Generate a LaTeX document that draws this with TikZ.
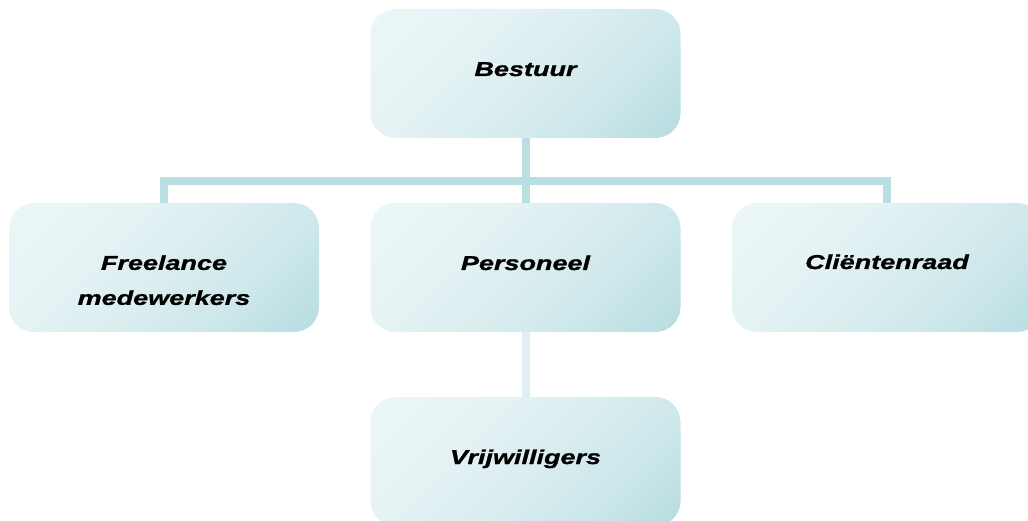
\documentclass[tikz,border=0pt]{standalone}
\usepackage{fontspec}
\newfontfamily\boxfont[FakeStretch=1.35,FakeBold=1.2]{Liberation Sans}
\definecolor{boxlight}{HTML}{EBF6F7}
\definecolor{boxpale}{HTML}{E6F3F5}
\definecolor{boxcenter}{HTML}{DCEEF0}
\definecolor{boxmid}{HTML}{CCE7EA}
\definecolor{boxdark}{HTML}{B9DEE2}
\definecolor{connclr}{HTML}{B9DFE3}
\definecolor{connpale}{HTML}{E0F0F2}
\pgfdeclareverticalshading{boxshade}{100bp}{%
  color(0bp)=(boxdark); color(17bp)=(boxdark); color(32bp)=(boxmid);
  color(50bp)=(boxcenter); color(66bp)=(boxpale); color(85bp)=(boxlight); color(100bp)=(boxlight)}
\tikzset{
  orgbox/.style={rectangle, rounded corners=25pt, minimum width=310pt, minimum height=129pt,
    inner sep=0pt, shade, shading=boxshade, shading angle=45},
  lbl/.style={font=\boxfont\bfseries\itshape\fontsize{20}{35}\selectfont, inner sep=0pt, text=black},
  conn/.style={draw=connclr, line width=8pt, line join=miter},
}
\begin{document}
\begin{tikzpicture}[x=1pt,y=1pt]
\useasboundingbox (0,0) rectangle (1028,520);
\clip (0,0) rectangle (1028,520);
\node[orgbox] (bestuur) at (525.5,446.5) {};
\node[orgbox] (freelance) at (164,252.5) {};
\node[orgbox] (personeel) at (525.5,252.5) {};
\node[orgbox] (clienten) at (887,252.5) {};
\node[orgbox] (vrijw) at (525.5,58.5) {};
\coordinate (hbar) at (0,338.5);
\draw[conn] (freelance.north) -- (freelance.north |- hbar) -- (clienten.north |- hbar) -- (clienten.north);
\draw[conn] (bestuur.south) -- (personeel.north);
\draw[conn, draw=connpale] (personeel.south) -- (vrijw.north);
\node[lbl, anchor=base] (tbestuur) at (525.5,444) {Bestuur};
\node[lbl, align=center] (tfreelance) at (164,239.8) {Freelance\\medewerkers};
\node[lbl, anchor=base] (tpersoneel) at (525.5,250) {Personeel};
\node[lbl, anchor=base] (tclienten) at (887,251) {Cliëntenraad};
\node[lbl, anchor=base] (tvrijw) at (525.5,56) {Vrijwilligers};
\end{tikzpicture}
\end{document}
